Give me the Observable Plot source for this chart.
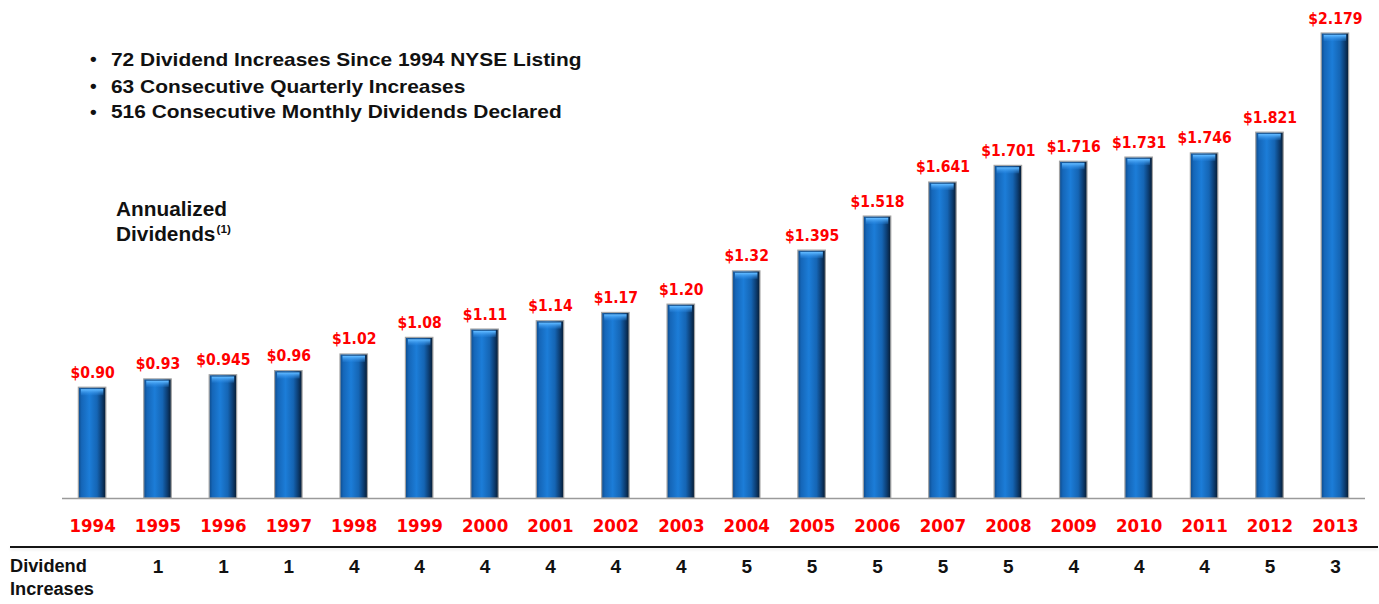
<!DOCTYPE html>
<html>
<head>
<meta charset="utf-8">
<script src="https://cdn.jsdelivr.net/npm/d3@7"></script>
<script src="https://cdn.jsdelivr.net/npm/@observablehq/plot@0.6"></script>
<style>
  html, body { margin: 0; padding: 0; background: #fff; }
  #wrap { position: relative; width: 1379px; height: 604px; overflow: hidden; font-family: "Liberation Sans", Arial, sans-serif; font-weight: bold; color: #111; }
  #chart { position: absolute; left: 0; top: 0; }
  .ov { position: absolute; white-space: nowrap; line-height: 1; transform-origin: 0 0; }
  .sep { position: absolute; left: 10px; top: 546px; width: 1368px; height: 0; border-top: 2px solid #151515; box-shadow: 0 2px 3px rgba(0,0,0,0.08); }
</style>
</head>
<body>
<div id="wrap">
  <div id="chart"></div>
  <div class="ov" style="left:90px; top:49px; font-size:19px;">•</div>
  <div class="ov" style="left:110.5px; top:49.6px; font-size:19px; transform:scaleX(1.1);">72 Dividend Increases Since 1994 NYSE Listing</div>
  <div class="ov" style="left:90px; top:76px; font-size:19px;">•</div>
  <div class="ov" style="left:110.5px; top:76.6px; font-size:19px; transform:scaleX(1.1);">63 Consecutive Quarterly Increases</div>
  <div class="ov" style="left:90px; top:101.8px; font-size:19px;">•</div>
  <div class="ov" style="left:110.5px; top:102.4px; font-size:19px; transform:scaleX(1.1);">516 Consecutive Monthly Dividends Declared</div>
  <div class="ov" style="left:116px; top:200.2px; font-size:19.5px; transform:scaleX(1.067);">Annualized</div>
  <div class="ov" style="left:116px; top:225.2px; font-size:19.5px; transform:scaleX(1.067);">Dividends<span style="font-size:11px; position:relative; top:-8px; margin-left:1px;">(1)</span></div>
  <div class="sep"></div>
  <div class="ov" style="left:10px; top:558.4px; font-size:17.5px; transform:scaleX(1.04);">Dividend</div>
  <div class="ov" style="left:10px; top:581.4px; font-size:17.5px; transform:scaleX(1.04);">Increases</div>
</div>
<script>
const years = ["1994","1995","1996","1997","1998","1999","2000","2001","2002","2003","2004","2005","2006","2007","2008","2009","2010","2011","2012","2013"];
const dividends = [0.90, 0.93, 0.945, 0.96, 1.02, 1.08, 1.11, 1.14, 1.17, 1.20, 1.32, 1.395, 1.518, 1.641, 1.701, 1.716, 1.731, 1.746, 1.821, 2.179];
const dividendLabels = ["$0.90","$0.93","$0.945","$0.96","$1.02","$1.08","$1.11","$1.14","$1.17","$1.20","$1.32","$1.395","$1.518","$1.641","$1.701","$1.716","$1.731","$1.746","$1.821","$2.179"];
const increases = [null, 1, 1, 1, 4, 4, 4, 4, 4, 4, 5, 5, 5, 5, 5, 4, 4, 4, 5, 3];
const yMin = 0.5;
const yMax = 2.179;

const data = years.map((year, i) => ({
  year,
  value: dividends[i],
  label: dividendLabels[i],
  inc: increases[i]
}));
const incData = data.filter(d => d.inc != null);

const RED = "#ff0000";
const numFont = "'DejaVu Sans Condensed', 'DejaVu Sans', sans-serif";

const svg = Plot.plot({
  width: 1379,
  height: 604,
  marginLeft: 62,
  marginRight: 14,
  marginTop: 33,
  marginBottom: 106,
  style: { background: "transparent", overflow: "visible" },
  x: { type: "band", domain: years, paddingInner: 0.58, paddingOuter: 0.25, round: false, axis: null },
  y: { domain: [yMin, yMax], axis: null },
  marks: [
    Plot.ruleY([yMin], { stroke: "#9a9a9a", strokeWidth: 1.5 }),
    Plot.barY(data, {
      x: "year", y1: yMin, y2: "value",
      fill: "url(#barGrad)", stroke: "#a3a3a3", strokeWidth: 1.2
    }),
    Plot.barY(data, {
      x: "year", y1: "value", y2: "value",
      insetBottom: -8, insetLeft: 2.5, insetRight: 2.5, insetTop: 1,
      fill: "url(#capGrad)"
    }),
    Plot.text(data, {
      x: "year", y: "value", text: "label",
      dy: -10, lineAnchor: "bottom",
      fill: RED, fontSize: 15.6, fontWeight: "bold", fontFamily: numFont
    }),
    Plot.text(data, {
      x: "year", text: "year", frameAnchor: "bottom", dy: 33.5,
      fill: RED, fontSize: 18.5, fontWeight: "bold", fontFamily: numFont
    }),
    Plot.text(incData, {
      x: "year", text: d => String(d.inc), frameAnchor: "bottom", dy: 74.5,
      fill: "#111", fontSize: 19, fontWeight: "bold",
      fontFamily: "'Liberation Sans', Arial, sans-serif"
    })
  ]
});

svg.insertAdjacentHTML("afterbegin", `
<defs>
  <linearGradient id="barGrad" x1="0" y1="0" x2="1" y2="0">
    <stop offset="0%" stop-color="#0d4a8a"/>
    <stop offset="12%" stop-color="#1566b8"/>
    <stop offset="40%" stop-color="#1c7dd8"/>
    <stop offset="68%" stop-color="#1565b4"/>
    <stop offset="86%" stop-color="#0c3c70"/>
    <stop offset="100%" stop-color="#061a30"/>
  </linearGradient>
  <linearGradient id="capGrad" x1="0" y1="0" x2="0" y2="1">
    <stop offset="0%" stop-color="#0d3d72"/>
    <stop offset="20%" stop-color="#5cb6ff"/>
    <stop offset="100%" stop-color="#2b8ae6" stop-opacity="0.2"/>
  </linearGradient>
</defs>`);

document.getElementById("chart").appendChild(svg);
</script>
</body>
</html>
